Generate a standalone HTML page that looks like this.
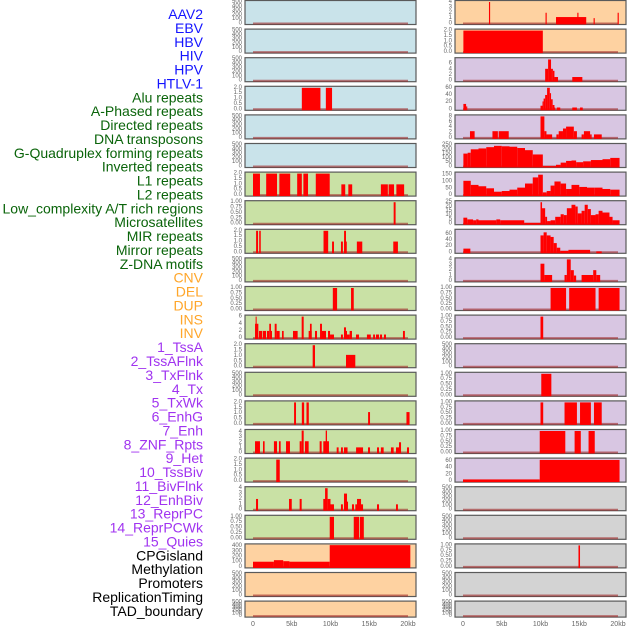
<!DOCTYPE html>
<html><head><meta charset="utf-8"><style>
html,body{margin:0;padding:0;background:#fff;}
svg{display:block;font-family:"Liberation Sans",sans-serif;}
</style></head><body>
<svg id="chart" width="630" height="630" viewBox="0 0 630 630"></svg>
<script>
const labels = ["AAV2","EBV","HBV","HIV","HPV","HTLV-1","Alu repeats","A-Phased repeats","Directed repeats","DNA transposons","G-Quadruplex forming repeats","Inverted repeats","L1 repeats","L2 repeats","Low_complexity A/T rich regions","Microsatellites","MIR repeats","Mirror repeats","Z-DNA motifs","CNV","DEL","DUP","INS","INV","1_TssA","2_TssAFlnk","3_TxFlnk","4_Tx","5_TxWk","6_EnhG","7_Enh","8_ZNF_Rpts","9_Het","10_TssBiv","11_BivFlnk","12_EnhBiv","13_ReprPC","14_ReprPCWk","15_Quies","CPGisland","Methylation","Promoters","ReplicationTiming","TAD_boundary"];
const labelColors = ["#1414ff","#1414ff","#1414ff","#1414ff","#1414ff","#1414ff","#0a640a","#0a640a","#0a640a","#0a640a","#0a640a","#0a640a","#0a640a","#0a640a","#0a640a","#0a640a","#0a640a","#0a640a","#0a640a","#ffa62a","#ffa62a","#ffa62a","#ffa62a","#ffa62a","#a033f0","#a033f0","#a033f0","#a033f0","#a033f0","#a033f0","#a033f0","#a033f0","#a033f0","#a033f0","#a033f0","#a033f0","#a033f0","#a033f0","#a033f0","#000","#000","#000","#000","#000"];
const xTicks = [0,5,10,15,20];
const xTickLabels = ["0","5kb","10kb","15kb","20kb"];
const T500=[0,100,200,300,400,500], T2=[0,0.5,1,1.5,2], T1=[0,0.25,0.5,0.75,1], T4=[0,1,2,3,4], T6=[0,2,4,6], T60=[0,20,40,60], T8=[0,2,4,6,8], T250=[0,50,100,150,200,250], T150=[0,50,100,150], T25=[0,5,10,15,20,25], T400=[0,100,200,300,400];

// left column segments [startKb, endKb, value]
const L04=[[6.3,8.7,2],[9.4,10.2,2]];
const L07=[[0,0.9,2],[1.7,3.1,2],[3.4,4.8,2],[5.7,6.3,2],[6.5,7.1,2],[8.1,9.9,2],[11.4,11.9,1],[12.3,12.8,1],[16.5,17.4,1],[17.5,18.2,1],[18.5,19.5,1]];
const L08=[[18.15,18.4,1]];
const L09=[[0.4,0.65,2],[0.8,1.0,2],[9.1,9.7,2],[10.2,10.45,1],[11.35,11.6,1],[11.75,12.0,2],[11.75,12.1,1],[13.4,14.1,1],[18.1,18.7,1]];
const L11=[[10.3,10.85,1],[12.65,13.0,1]];
const L12=[[0.26,0.69,4],[0.34,0.47,6],[0.77,1.2,2],[1.29,1.68,2],[1.8,2.1,2],[2.1,2.32,4],[2.32,2.45,2],[2.8,3.05,4],[3.05,3.44,2],[3.74,3.96,2],[5.16,5.76,2],[6.28,6.54,6],[7.18,7.57,2],[7.35,7.57,4],[8.0,8.26,2],[8.65,8.9,4],[8.9,9.42,2],[9.68,9.94,2],[9.94,10.45,1],[11.35,11.6,1],[11.74,12.0,3],[11.9,12.13,2],[12.13,12.47,1],[12.47,12.77,2],[13.29,13.68,1],[14.7,15.2,1],[15.5,15.74,1],[15.87,16.26,1],[16.39,16.65,1],[16.9,17.16,1],[19.35,19.6,2]];
const L13=[[7.7,8.0,2],[12.0,13.2,1.1]];
const L15=[[5.3,5.55,2],[6.3,6.6,2],[6.9,7.2,2],[14.85,15.1,1.1],[19.8,20.2,1.1]];
const L16=[[0.26,0.9,2.2],[1.29,1.5,2.2],[2.7,3.1,2.2],[3.35,3.57,2.2],[4.26,4.77,2.2],[6.02,6.28,2.2],[6.28,6.54,4.5],[6.7,7.18,2.2],[8.6,8.86,2.2],[9.07,9.8,2.2],[9.38,9.55,4.5],[10.8,11.05,1],[11.35,11.6,1],[11.74,12.2,1],[13.3,14.2,1],[14.84,15.1,1],[16.0,16.26,1],[16.5,16.86,1],[17.8,18.15,1],[18.45,18.97,1],[18.84,19.1,2],[19.87,20.13,1]];
const L17=[[3.0,3.45,2]];
const L18=[[0.39,0.65,2],[4.65,5.0,2],[6.02,6.28,2],[9.07,9.42,2],[9.3,9.63,4],[9.63,10.0,2],[10.0,10.45,1],[11.35,11.6,1],[11.74,12.13,3],[11.9,12.26,1.5],[12.77,13.03,1],[13.2,14.2,1],[13.42,13.94,2],[16.0,16.26,1],[18.45,18.7,1]];
const L19=[[9.9,10.45,1],[13.0,13.7,1],[13.8,14.3,1]];
const L20=[[0,2.7,100],[2.7,3.9,130],[3.9,4.7,110],[4.7,9.9,100],[9.9,20.3,420]];

// right column segments
const R01=[[3.35,3.5,4],[10.65,10.8,2],[12.0,15.9,1.2],[14.75,14.9,2],[16.85,17.0,1],[19.95,20.1,2]];
const R02=[[0.05,10.3,2]];
const R03=[[10.6,10.98,4.2],[10.98,11.36,7.5],[11.36,11.6,4.2],[11.6,11.8,3.5],[11.8,12.26,1.3],[14.1,15.4,1.3]];
const R04=[[0.05,0.4,15],[0.4,0.55,8],[10.0,10.26,10],[10.26,10.4,22],[10.4,10.6,30],[10.6,10.85,40],[10.85,11.2,60],[11.2,11.36,45],[11.36,11.57,28],[11.57,11.8,12],[11.8,11.9,5],[12.1,12.55,5],[14.1,14.7,5],[15.1,15.45,5]];
const R05=[[0.9,1.5,2.5],[3.8,4.5,2.5],[4.6,5.9,2.5],[10.0,10.5,8],[10.5,10.77,2.5],[10.77,11.5,1.3],[12.05,12.35,1.3],[12.35,12.9,2.5],[12.9,13.3,3.5],[13.3,14.3,4.2],[14.3,14.7,2.5],[15.3,15.6,1.3],[15.6,16.4,2.5],[16.4,16.6,1.3],[16.9,17.9,1.3]];
const R06=[[0.05,0.6,150],[0.6,1,160],[1,2,200],[2,3,210],[3,4,225],[4,5,240],[5,6,235],[6,7,230],[7,8,215],[8,9,190],[9,10.3,140],[10.3,12,5],[12,12.6,20],[12.6,13.3,45],[13.3,14,65],[14,14.6,70],[14.6,15.5,50],[15.5,16.5,60],[16.5,18,75],[18,19,85],[19,20.2,100]];
const R07=[[0.05,1,105],[1,2,75],[2,3,65],[3,4,50],[4,5,25],[5,6,30],[6,7,40],[7,8,55],[8,9,85],[9,9.7,130],[9.7,10.3,150],[10.3,10.8,20],[10.8,11.3,30],[11.3,11.8,70],[11.8,12.6,100],[12.6,13.3,85],[13.3,14,45],[14,15,75],[15,16,60],[16,17,55],[17,18,55],[18,19,45],[19,20.2,40]];
const R08=[[0.05,0.55,7],[0.55,1.3,5],[1.3,1.7,4],[1.7,2.0,5],[2.0,4.3,4],[4.3,4.8,5],[4.8,7.9,4],[7.9,10.0,1],[10.0,10.2,25],[10.2,10.6,18],[10.6,10.85,8],[10.85,11.3,3],[11.3,11.9,4],[11.9,12.6,8],[12.6,13.0,11],[13.0,13.4,10],[13.4,14.0,18],[14.0,14.5,22],[14.5,14.8,20],[14.8,15.3,12],[15.3,15.7,15],[15.7,16.1,22],[16.1,16.5,17],[16.5,17.1,10],[17.1,17.5,11],[17.5,18.0,15],[18.0,18.9,13],[18.9,19.3,8],[19.3,20.2,4]];
const R09=[[0.05,0.95,12],[10.0,10.4,55],[10.4,10.8,65],[10.8,11.3,55],[11.3,11.7,50],[11.7,12.1,30],[12.1,12.55,15],[12.55,13.6,5],[13.6,16.4,8],[17.2,17.9,3]];
const R10=[[10.0,10.5,3.2],[10.5,11.5,1.1],[13.1,13.4,1.1],[13.4,13.9,4],[13.9,14.3,2],[14.3,14.6,1],[15.3,16.8,1.1],[16.8,17.2,2],[17.2,17.7,1.1]];
const R11=[[11.3,13.3,1],[13.7,17.1,1],[17.5,20.2,1]];
const R12=[[10.0,10.35,1]];
const R14=[[10.1,11.4,1]];
const R15=[[10.0,10.35,1],[13.1,14.7,1],[15.1,16.5,1],[16.9,17.9,1]];
const R16=[[9.9,13.2,1],[14.4,15.2,1],[16.2,17.0,1]];
const R17=[[0,9.9,5],[9.9,20.2,63]];
const R20=[[14.9,15.1,1]];

const BLUE="#c9e3ea", GREEN="#c9e1a5", ORANGE="#fed2a1", PURPLE="#d8c6e2", GRAY="#d3d3d3";
const leftPanels=[
 [[],T500,0,BLUE],[[],T500,0,BLUE],[[],T500,0,BLUE],[L04,T2,0,BLUE],[[],T500,0,BLUE],[[],T500,0,BLUE],
 [L07,T2,0,GREEN],[L08,T1,0,GREEN],[L09,T2,0,GREEN],[[],T500,0,GREEN],[L11,T1,0,GREEN],[L12,T6,0,GREEN],
 [L13,T2,0,GREEN],[[],T500,0,GREEN],[L15,T2,0,GREEN],[L16,T4,4.2,GREEN],[L17,T2,0,GREEN],[L18,T4,0,GREEN],
 [L19,T1,0,GREEN],[L20,T400,415,ORANGE],[[],T500,0,ORANGE],[[],T500,0,ORANGE]];
const rightPanels=[
 [R01,T4,0,ORANGE],[R02,T2,0,ORANGE],[R03,T6,7.6,PURPLE],[R04,T60,0,PURPLE],[R05,T8,0,PURPLE],[R06,T250,0,PURPLE],
 [R07,T150,158,PURPLE],[R08,T25,0,PURPLE],[R09,T60,70,PURPLE],[R10,T4,0,PURPLE],[R11,T1,0,PURPLE],[R12,T1,0,PURPLE],
 [[],T500,0,PURPLE],[R14,T1,0,PURPLE],[R15,T1,0,PURPLE],[R16,T1,0,PURPLE],[R17,T60,64,PURPLE],[[],T500,0,GRAY],
 [[],T500,0,GRAY],[R20,T1,0,GRAY],[[],T500,0,GRAY],[[],T500,0,GRAY]];

const NS="http://www.w3.org/2000/svg";
const svg=document.getElementById('chart');
function mk(tag,attrs,parent){const e=document.createElementNS(NS,tag);for(const k in attrs)e.setAttribute(k,attrs[k]);(parent||svg).appendChild(e);return e;}
function fmt(t,ticks){const mx=ticks[ticks.length-1];if(mx===1)return t.toFixed(2);if(mx===2)return t.toFixed(1);return String(t);}

// labels
labels.forEach((s,i)=>{
 const t=mk('text',{x:203,y:14+13.88*i,'text-anchor':'end','dominant-baseline':'central','font-size':14,fill:labelColors[i]});
 t.textContent=s;
 
 
});

function drawPanel(p,i,col){
 const [segs,ticks,ymaxIn,bg]=p;
 const left=col===0?245:455, zeroX=col===0?253:463, w=171;
 const top=i*28.6, h=(i===21)?17:25, bottom=top+h;
 const ymax=ymaxIn||ticks[ticks.length-1];
 const xs=kb=>zeroX+kb*7.75;
 const ys=v=>bottom-1.5-Math.min(v,ymax*1.02)/ymax*(h-3.5);
 const g=mk('g',{});
 
 
 const bgr=mk('rect',{x:left,y:top+0.5,width:w,height:h-1,fill:bg,stroke:'#5a5a5a','stroke-width':1.2},g);
 
 
 const base=mk('line',{x1:xs(0),x2:xs(20),y1:ys(0),y2:ys(0),stroke:'rgba(160,40,40,0.6)','stroke-width':2},g);
 
 
 segs.forEach(s=>{
  const r=mk('rect',{x:xs(s[0]),y:ys(s[2]),width:Math.max(0.8,xs(s[1])-xs(s[0])),height:ys(0)-ys(s[2])+1,fill:'#ff0000'},g);
  
  
 });
 ticks.forEach(t=>{
  const tx=mk('text',{x:left-3,y:ys(t),'text-anchor':'end','dominant-baseline':'central','font-size':6,fill:'#666'},g);
  tx.textContent=fmt(t,ticks);
  
  
 });
}
leftPanels.forEach((p,i)=>drawPanel(p,i,0));
rightPanels.forEach((p,i)=>drawPanel(p,i,1));

[253,463].forEach((z,c)=>{
 xTicks.forEach((t,j)=>{
  const tx=mk('text',{x:z+t*7.75,y:626,'text-anchor':'middle','font-size':7,fill:'#666'});
  tx.textContent=xTickLabels[j];
  
  
 });
});
</script>
</body></html>
